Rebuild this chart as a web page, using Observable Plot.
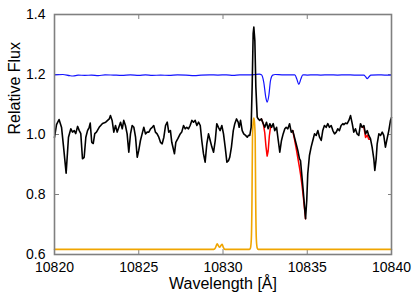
<!DOCTYPE html>
<html><head><meta charset="utf-8">
<script src="https://cdn.jsdelivr.net/npm/d3@7"></script>
<script src="https://cdn.jsdelivr.net/npm/@observablehq/plot@0.6"></script>
<style>body{margin:0;background:#fff}</style>
</head><body><div id="chart"></div>
<script>
// Observed spectrum (black)
const obsWave = [
10820.00, 10820.12, 10820.27, 10820.42, 10820.53, 10820.69, 10820.83, 10820.97, 10821.07, 10821.17,
10821.26, 10821.37, 10821.47, 10821.56, 10821.66, 10821.76, 10821.86, 10821.96, 10822.06, 10822.12,
10822.21, 10822.30, 10822.39, 10822.49, 10822.65, 10822.85, 10823.04, 10823.25, 10823.32, 10823.42,
10823.52, 10823.62, 10823.72, 10823.82, 10823.92, 10824.02, 10824.11, 10824.21, 10824.31, 10824.41,
10824.51, 10824.61, 10824.71, 10824.81, 10824.91, 10825.00, 10825.10, 10825.20, 10825.30, 10825.40,
10825.50, 10825.60, 10825.70, 10825.80, 10825.89, 10825.99, 10826.09, 10826.19, 10826.29, 10826.39,
10826.49, 10826.59, 10826.69, 10826.78, 10826.88, 10826.96, 10827.12, 10827.20, 10827.32, 10827.46,
10827.55, 10827.66, 10827.76, 10827.85, 10827.95, 10828.05, 10828.15, 10828.25, 10828.35, 10828.45,
10828.55, 10828.65, 10828.74, 10828.84, 10828.94, 10829.04, 10829.14, 10829.24, 10829.34, 10829.44,
10829.54, 10829.63, 10829.73, 10829.83, 10829.93, 10830.03, 10830.13, 10830.23, 10830.33, 10830.40,
10830.50, 10830.61, 10830.70, 10830.80, 10830.90, 10830.96, 10831.04, 10831.14, 10831.23, 10831.34,
10831.44, 10831.51, 10831.59, 10831.67, 10831.73, 10831.79, 10831.83, 10831.89, 10831.95, 10832.03,
10832.09, 10832.18, 10832.28, 10832.39, 10832.48, 10832.58, 10832.68, 10832.78, 10832.88, 10832.98,
10833.07, 10833.18, 10833.28, 10833.37, 10833.47, 10833.57, 10833.67, 10833.75, 10833.85, 10833.95,
10834.05, 10834.14, 10834.24, 10834.34, 10834.44, 10834.54, 10834.60, 10834.68, 10834.76, 10834.84,
10834.90, 10834.97, 10835.03, 10835.13, 10835.23, 10835.33, 10835.43, 10835.53, 10835.63, 10835.73,
10835.83, 10835.92, 10836.02, 10836.12, 10836.22, 10836.32, 10836.42, 10836.52, 10836.62, 10836.72,
10836.81, 10836.91, 10837.01, 10837.11, 10837.17, 10837.27, 10837.37, 10837.47, 10837.57, 10837.67,
10837.76, 10837.86, 10837.96, 10838.06, 10838.16, 10838.26, 10838.36, 10838.46, 10838.56, 10838.65,
10838.75, 10838.85, 10838.95, 10839.01, 10839.09, 10839.15, 10839.25, 10839.35, 10839.45, 10839.54,
10839.64, 10839.74, 10839.84, 10839.94, 10840.00
];
const obsFlux = [
0.990, 1.033, 1.050, 1.023, 0.963, 0.871, 0.991, 1.019, 1.008, 1.013,
1.003, 1.027, 1.013, 1.003, 0.919, 0.924, 0.991, 1.013, 1.024, 1.038,
0.974, 0.970, 1.003, 1.008, 1.024, 1.037, 1.041, 1.052, 1.063, 1.047,
1.008, 1.030, 1.008, 1.024, 1.041, 1.019, 1.047, 1.030, 1.002, 0.941,
1.002, 1.030, 1.024, 0.991, 0.924, 0.947, 0.980, 1.002, 1.024, 1.002,
1.008, 1.008, 1.019, 1.024, 1.030, 1.008, 1.002, 0.991, 0.974, 0.969,
0.991, 1.030, 1.041, 1.008, 1.013, 0.974, 0.936, 0.974, 0.986, 1.002,
1.008, 1.030, 1.019, 1.024, 1.019, 1.030, 1.047, 1.041, 1.047, 1.030,
1.041, 1.030, 0.980, 0.936, 0.908, 0.969, 1.002, 0.980, 0.958, 0.941,
0.980, 1.036, 1.024, 1.013, 1.030, 1.002, 0.958, 0.908, 0.913, 0.924,
0.958, 1.013, 1.036, 1.052, 1.041, 1.024, 1.047, 1.013, 1.002, 0.997,
0.991, 0.997, 0.997, 1.024, 1.158, 1.336, 1.358, 1.313, 1.158, 1.058,
1.052, 1.047, 1.052, 1.036, 1.024, 1.041, 1.019, 1.036, 1.024, 1.036,
1.013, 1.024, 0.980, 0.941, 0.980, 1.002, 1.019, 1.024, 1.019, 1.036,
1.008, 1.013, 0.991, 0.969, 0.947, 0.919, 0.913, 0.863, 0.813, 0.758,
0.719, 0.780, 0.869, 0.930, 0.958, 0.980, 1.002, 0.997, 1.013, 0.991,
0.980, 1.013, 1.030, 1.024, 1.036, 1.024, 1.030, 1.013, 1.002, 1.008,
1.019, 1.013, 1.030, 1.036, 1.033, 1.038, 1.036, 1.047, 1.063, 1.036,
1.008, 1.019, 1.002, 0.997, 1.036, 1.024, 1.030, 1.002, 1.013, 0.997,
0.986, 0.958, 0.919, 0.880, 0.919, 0.969, 1.002, 0.997, 1.008, 0.997,
0.958, 0.986, 1.013, 1.047, 1.057
];
// Uncorrected spectrum (red), where it departs from the black one
const redWave = [
10832.28, 10832.39, 10832.48, 10832.55, 10832.62, 10832.68, 10832.75, 10832.82, 10832.88,
10834.14, 10834.24, 10834.34, 10834.44, 10834.54, 10834.60, 10834.68, 10834.76, 10834.84, 10834.90,
10838.26, 10838.36, 10838.46, 10838.56, 10838.65, 10838.75
];
const redFlux = [
1.052, 1.036, 1.005, 0.960, 0.928, 0.945, 0.995, 1.025, 1.024,
1.013, 0.985, 0.955, 0.922, 0.890, 0.868, 0.835, 0.795, 0.752, 0.719,
1.024, 1.025, 0.990, 0.998, 0.984, 0.984
];
const redSegment = [1,1,1,1,1,1,1,1,1, 2,2,2,2,2,2,2,2,2,2, 3,3,3,3,3,3];
// Telluric spectrum (blue)
const telWave = [
10820.0, 10820.5, 10820.9, 10821.1, 10821.4, 10821.8, 10822.2, 10822.6, 10823.0, 10823.5,
10824.0, 10824.5, 10825.0, 10825.4, 10825.8, 10826.3, 10826.8, 10827.3, 10827.8, 10828.3,
10828.7, 10829.2, 10829.7, 10830.2, 10830.6, 10831.0, 10831.5, 10831.9, 10832.15, 10832.28,
10832.42, 10832.54, 10832.62, 10832.72, 10832.82, 10832.95, 10833.1, 10833.5, 10833.9, 10834.26,
10834.38, 10834.50, 10834.62, 10834.74, 10835.0, 10835.4, 10835.8, 10836.3, 10836.8, 10837.3,
10837.8, 10838.36, 10838.47, 10838.56, 10838.66, 10838.78, 10839.2, 10839.6, 10840.0
];
const telFlux = [
1.199, 1.200, 1.196, 1.195, 1.198, 1.197, 1.198, 1.196, 1.199, 1.198,
1.197, 1.199, 1.197, 1.199, 1.197, 1.198, 1.197, 1.199, 1.198, 1.196,
1.198, 1.199, 1.198, 1.199, 1.197, 1.199, 1.199, 1.200, 1.201, 1.199,
1.174, 1.124, 1.108, 1.130, 1.180, 1.198, 1.200, 1.199, 1.199, 1.199,
1.185, 1.167, 1.185, 1.199, 1.198, 1.199, 1.198, 1.199, 1.198, 1.199,
1.198, 1.198, 1.192, 1.186, 1.192, 1.198, 1.199, 1.198, 1.198
];
// Emission model (orange)
const modWave = [
10820.0, 10829.45, 10829.55, 10829.62, 10829.66, 10829.72, 10829.80, 10829.88, 10829.95, 10830.02,
10830.12, 10831.57, 10831.63, 10831.68, 10831.72, 10831.75, 10831.79, 10831.83, 10831.87, 10831.91,
10831.94, 10831.98, 10832.03, 10832.09, 10840.0
];
const modFlux = [
0.617, 0.617, 0.622, 0.632, 0.636, 0.630, 0.624, 0.630, 0.634, 0.624,
0.617, 0.617, 0.622, 0.650, 0.780, 0.990, 1.040, 1.055, 1.040, 0.990,
0.780, 0.650, 0.622, 0.617, 0.617
];
const xTicks = [10820, 10825, 10830, 10835, 10840];
const yTicks = [0.6, 0.8, 1.0, 1.2, 1.4];

const obs = obsWave.map((w, i) => ({w, f: obsFlux[i]}));
const red = redWave.map((w, i) => ({w, f: redFlux[i], s: redSegment[i]}));
const tel = telWave.map((w, i) => ({w, f: telFlux[i]}));
const mod = modWave.map((w, i) => ({w, f: modFlux[i]}));

const frameColor = "#808080";
const chart = Plot.plot({
  width: 415, height: 299,
  marginLeft: 54, marginRight: 24, marginTop: 14, marginBottom: 45,
  x: {domain: [10820, 10840]},
  y: {domain: [0.6, 1.4]},
  style: {fontFamily: "'Liberation Sans', Arial, sans-serif", fontSize: "14px", background: "white", color: "black"},
  marks: [
    Plot.axisX({ticks: xTicks, anchor: "bottom", tickSize: -5, tickPadding: 13, tickFormat: d => String(d), label: null, stroke: frameColor, fill: "black", fontSize: 14}),
    Plot.axisX({ticks: xTicks, anchor: "top", tickSize: -4, label: null, stroke: frameColor, fill: "none"}),
    Plot.axisY({ticks: yTicks, anchor: "left", tickSize: -5, tickPadding: 14, tickFormat: d3.format(".1f"), label: null, stroke: frameColor, fill: "black", fontSize: 14}),
    Plot.axisY({ticks: yTicks, anchor: "right", tickSize: -4, label: null, stroke: frameColor, fill: "none"}),
    Plot.line(mod, {x: "w", y: "f", stroke: "#f0a500", strokeWidth: 1.6, curve: "monotone-x"}),
    Plot.line(tel, {x: "w", y: "f", stroke: "#1414ff", strokeWidth: 1.2, curve: "monotone-x"}),
    Plot.line(red, {x: "w", y: "f", z: "s", stroke: "#ff0000", strokeWidth: 1.5}),
    Plot.line(obs, {x: "w", y: "f", stroke: "black", strokeWidth: 1.6}),
    Plot.frame({stroke: frameColor, strokeWidth: 1.6}),
    Plot.text(["Relative Flux"], {text: d => d, frameAnchor: "left", dx: -40, rotate: -90, fontSize: 16, fill: "black"}),
    Plot.text(["Wavelength [Å]"], {text: d => d, frameAnchor: "bottom", dy: 34, fontSize: 16, fill: "black"})
  ]
});
document.getElementById("chart").appendChild(chart);
</script>
</body></html>
